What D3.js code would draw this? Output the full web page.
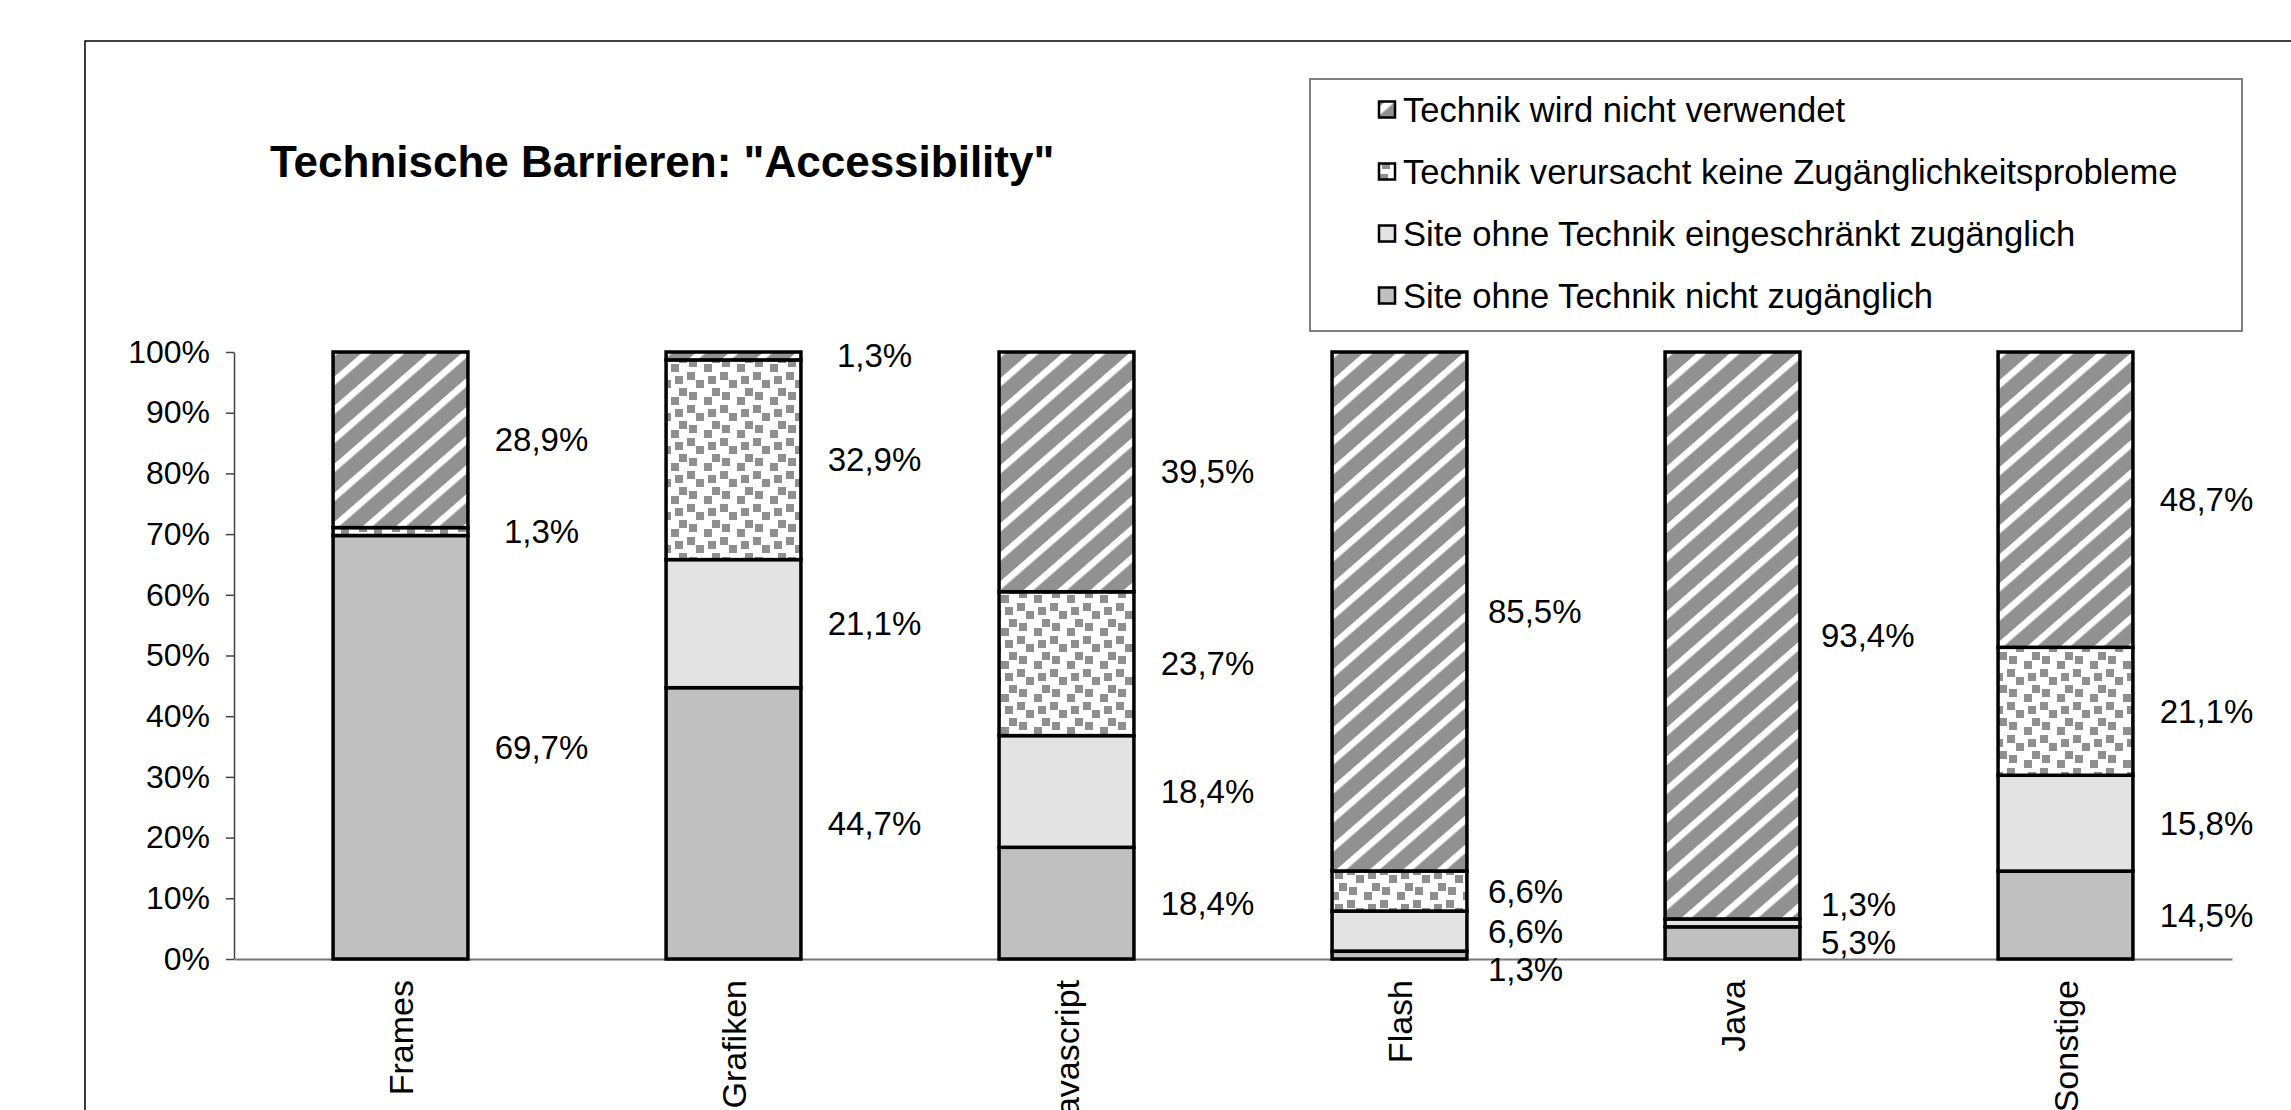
<!DOCTYPE html>
<html><head><meta charset="utf-8">
<script src="https://cdn.jsdelivr.net/npm/d3@7/dist/d3.min.js"></script>
<style>body{margin:0;background:#fff}svg{display:block}</style>
</head><body>
<svg id="c" width="2291" height="1110"></svg>
<script>
// ---------- data ----------
const chartTitle = 'Technische Barrieren: "Accessibility"';
const categories = ["Frames", "Grafiken", "Javascript", "Flash", "Java", "Sonstige"];
const seriesKeys = ["nichtZugaenglich", "eingeschraenkt", "keineProbleme", "nichtVerwendet"];
const seriesNames = [
  "Site ohne Technik nicht zugänglich",
  "Site ohne Technik eingeschränkt zugänglich",
  "Technik verursacht keine Zugänglichkeitsprobleme",
  "Technik wird nicht verwendet"
];
const nichtZugaenglich = [69.7, 44.7, 18.4, 1.3, 5.3, 14.5];
const eingeschraenkt   = [0.0, 21.1, 18.4, 6.6, 1.3, 15.8];
const keineProbleme    = [1.3, 32.9, 23.7, 6.6, 0.0, 21.1];
const nichtVerwendet   = [28.9, 1.3, 39.5, 85.5, 93.4, 48.7];
const yTickValues = [0, 0.1, 0.2, 0.3, 0.4, 0.5, 0.6, 0.7, 0.8, 0.9, 1.0];
const legendOrder = [3, 2, 1, 0]; // legend lists top series first

// ---------- build table ----------
const seriesValues = [nichtZugaenglich, eingeschraenkt, keineProbleme, nichtVerwendet];
const table = categories.map((c, i) => {
  const row = {cat: c};
  seriesKeys.forEach((k, s) => row[k] = seriesValues[s][i]);
  return row;
});

const svg = d3.select("#c");
const FONT = "'Liberation Sans', Arial, Helvetica, sans-serif";
const locale = d3.formatLocale({decimal: ",", thousands: ".", grouping: [3], currency: ["", "€"]});
const fmtVal = v => locale.format(".1f")(v) + "%";

// ---------- patterns ----------
const defs = svg.append("defs");
const HP = 21.9;
const hatch = defs.append("pattern").attr("id", "hatch")
  .attr("patternUnits", "userSpaceOnUse").attr("width", HP).attr("height", HP)
  .attr("patternTransform", "rotate(49)");
hatch.append("rect").attr("width", HP).attr("height", HP).attr("fill", "#919191");
hatch.append("rect").attr("x", 0).attr("width", 6.5).attr("height", HP).attr("fill", "#ffffff");

const CP = 33;
const checker = defs.append("pattern").attr("id", "checker")
  .attr("patternUnits", "userSpaceOnUse").attr("width", CP).attr("height", CP);
checker.append("rect").attr("width", CP).attr("height", CP).attr("fill", "#ffffff");
const sq = [[11, 1], [29, 29], [15, 13], [27, 9], [3, 17], [19, 25]];
sq.forEach(p => {
  [0, -CP].forEach(ox => [0, -CP].forEach(oy =>
    checker.append("rect").attr("x", p[0] + ox).attr("y", p[1] + oy)
      .attr("width", 8).attr("height", 8).attr("fill", "#8f8f8f")));
});

const fills = ["#c0c0c0", "#e3e3e3", "url(#checker)", "url(#hatch)"];

// ---------- frame ----------
svg.append("rect").attr("x", 85).attr("y", 41).attr("width", 2400).attr("height", 1300)
  .attr("fill", "none").attr("stroke", "#000").attr("stroke-width", 1.5);

// ---------- title ----------
svg.append("text").attr("x", 270).attr("y", 177)
  .attr("font-family", FONT).attr("font-weight", "bold").attr("font-size", 44)
  .text(chartTitle);

// ---------- scales ----------
const x = d3.scaleBand().domain(categories).range([234, 2232])
  .paddingInner(0.595).paddingOuter(0.2975);
const y = d3.scaleLinear().domain([0, 1]).range([959, 352]);

const stack = d3.stack().keys(seriesKeys).offset(d3.stackOffsetExpand);
const stacked = stack(table);

// ---------- axes ----------
const yAxis = svg.append("g").attr("transform", "translate(234,0)")
  .call(d3.axisLeft(y).tickValues(yTickValues).tickFormat(d3.format(".0%"))
    .tickSize(8).tickSizeOuter(0).tickPadding(16));
yAxis.selectAll("path,line").attr("stroke", "#444").attr("stroke-width", 1.5);
yAxis.selectAll("text").attr("font-family", FONT).attr("font-size", 32).attr("fill", "#000");

const xAxis = svg.append("g").attr("transform", "translate(0,959)")
  .call(d3.axisBottom(x).tickSize(0).tickSizeOuter(0));
xAxis.select("path").attr("stroke", "#777").attr("stroke-width", 2);
xAxis.selectAll("text")
  .attr("font-family", FONT).attr("font-size", 34).attr("fill", "#000")
  .attr("transform", "rotate(-90)").attr("x", -21).attr("y", 12).attr("dy", 0)
  .attr("text-anchor", "end");

// ---------- bars ----------
const barG = svg.append("g");
stacked.forEach((layer, s) => {
  barG.append("g").selectAll("rect")
    .data(layer.filter(d => d.data[seriesKeys[s]] > 0))
    .join("rect")
    .attr("x", d => x(d.data.cat))
    .attr("width", x.bandwidth())
    .attr("y", d => y(d[1]))
    .attr("height", d => y(d[0]) - y(d[1]))
    .attr("fill", fills[s])
    .attr("stroke", "#000").attr("stroke-width", 3.5);
});

// ---------- value labels ----------
const minGap = 38;
categories.forEach((c, i) => {
  const labs = [];
  stacked.forEach((layer, s) => {
    const v = seriesValues[s][i];
    if (v > 0) labs.push({v, y: y((layer[i][0] + layer[i][1]) / 2)});
  });
  let collided = false;
  for (let k = 0; k < labs.length - 1; k++) {
    const a = labs[k], b = labs[k + 1];
    if (Math.abs(a.y - b.y) < minGap) {
      collided = true;
      const sm = a.v < b.v ? a : b, ot = sm === a ? b : a;
      const dir = sm.y > ot.y ? 1 : -1;
      sm.y = ot.y + dir * minGap;
    }
  }
  const cx = x(c) + x.bandwidth() / 2;
  const right = x(c) + x.bandwidth();
  labs.forEach(l => {
    svg.append("text")
      .attr("x", collided ? right + 21 : cx + 141)
      .attr("y", l.y).attr("dy", "0.35em")
      .attr("text-anchor", collided ? "start" : "middle")
      .attr("font-family", FONT).attr("font-size", 33)
      .text(fmtVal(l.v));
  });
});

// ---------- legend ----------
const lg = svg.append("g");
lg.append("rect").attr("x", 1310).attr("y", 79).attr("width", 932).attr("height", 252)
  .attr("fill", "#fff").attr("stroke", "#808080").attr("stroke-width", 2);
const rowY = d3.scalePoint().domain(legendOrder).range([110, 296]);
legendOrder.forEach(s => {
  const ry = rowY(s);
  lg.append("rect").attr("x", 1379).attr("y", ry - 8.5).attr("width", 16).attr("height", 16)
    .attr("fill", fills[s]).attr("stroke", "#000").attr("stroke-width", 2.5);
  lg.append("text").attr("x", 1403).attr("y", ry).attr("dy", "0.35em")
    .attr("font-family", FONT).attr("font-size", 34.6).text(seriesNames[s]);
});
</script>
</body></html>
